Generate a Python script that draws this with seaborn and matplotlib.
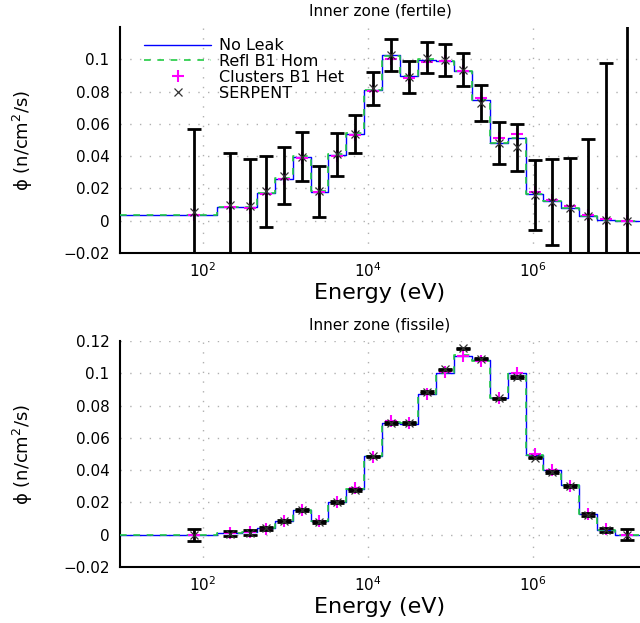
import matplotlib

matplotlib.use("Agg")

import matplotlib.pyplot as plt
import matplotlib.ticker as mticker
import numpy as np
import seaborn as sns

# group boundaries (eV), lowest lumped bin first
edges = [10, 148.63, 304.32, 454.0, 748.52, 1234.1, 2034.7, 3354.6, 5530.8,
         9118.8, 15034, 24788, 40868, 67379, 111090, 183160, 301970, 497870,
         820850, 1353400, 2231300, 3678800, 6065300, 1.0e7, 1.964e7]
# energies where the point data sit (group mid-points)
e_points = [78.9, 212.7, 371.7, 583, 961, 1585, 2613, 4307, 7102, 11709,
            19305, 31828, 52475, 86517, 142640, 235180, 387740, 639270,
            1054000, 1737700, 2865000, 4723700, 7788000, 1.4e7]

# Inner zone (fertile)
fert_noleak = [0.0037, 0.0088, 0.0083, 0.0170, 0.0260, 0.0397, 0.0180, 0.0410,
               0.0540, 0.0810, 0.1025, 0.0897, 0.0998, 0.0990, 0.0930, 0.0747,
               0.0480, 0.0510, 0.0167, 0.0120, 0.0078, 0.0027, 0.0006, 0.0]
fert_refl = [0.0037, 0.0088, 0.0083, 0.0171, 0.0262, 0.0399, 0.0181, 0.0412,
             0.0542, 0.0812, 0.1023, 0.0895, 0.0999, 0.0992, 0.0928, 0.0745,
             0.0481, 0.0512, 0.0168, 0.0121, 0.0079, 0.0028, 0.0006, 0.0]
fert_het = [0.0037, 0.0086, 0.0078, 0.0168, 0.0260, 0.0390, 0.0180, 0.0400,
            0.0530, 0.0805, 0.1004, 0.0885, 0.0980, 0.0990, 0.0930, 0.0757,
            0.0510, 0.0540, 0.0175, 0.0130, 0.0094, 0.0037, 0.0010, 0.0]
fert_serp = [0.0051, 0.0099, 0.0093, 0.0181, 0.0278, 0.0397, 0.0181, 0.0413,
             0.0537, 0.0819, 0.1025, 0.0890, 0.1010, 0.0994, 0.0936, 0.0730,
             0.0480, 0.0455, 0.0160, 0.0115, 0.0078, 0.0027, 0.0006, 0.0]
fert_err = [0.052, 0.032, 0.029, 0.022, 0.0177, 0.015, 0.016, 0.0133, 0.012,
            0.0105, 0.010, 0.010, 0.0095, 0.010, 0.010, 0.011, 0.013, 0.0147,
            0.0217, 0.0265, 0.031, 0.048, 0.097, 0.15]

# Inner zone (fissile)
fiss_noleak = [0.0, 0.0009, 0.0015, 0.0041, 0.0083, 0.0155, 0.0083, 0.0202,
               0.0283, 0.0485, 0.0695, 0.0689, 0.0870, 0.1000, 0.1110, 0.1080,
               0.0845, 0.1000, 0.0495, 0.0402, 0.0307, 0.0128, 0.0029, 0.0]
fiss_refl = [0.0, 0.0009, 0.0015, 0.0042, 0.0084, 0.0156, 0.0084, 0.0203,
             0.0284, 0.0487, 0.0697, 0.0690, 0.0872, 0.1001, 0.1111, 0.1079,
             0.0846, 0.0999, 0.0494, 0.0401, 0.0306, 0.0127, 0.0029, 0.0]
fiss_het = [0.0, 0.0008, 0.0015, 0.0037, 0.0084, 0.0153, 0.0083, 0.0205,
            0.0290, 0.0480, 0.0705, 0.0690, 0.0870, 0.1010, 0.1110, 0.1078,
            0.0845, 0.1000, 0.0497, 0.0402, 0.0303, 0.0128, 0.0035, 0.0]
fiss_serp = [0.0, 0.0007, 0.0012, 0.0040, 0.0085, 0.0153, 0.0080, 0.0201,
             0.0278, 0.0485, 0.0692, 0.0692, 0.0884, 0.1025, 0.1155, 0.1090,
             0.0845, 0.0977, 0.0478, 0.0390, 0.0299, 0.0124, 0.0029, 0.0]
fiss_err = [0.0036, 0.0018, 0.0015, 0.0010, 0.0008, 0.0007, 0.0007, 0.0006,
            0.0005, 0.0005, 0.0004, 0.0004, 0.0004, 0.0004, 0.0004, 0.0004,
            0.0004, 0.0004, 0.0005, 0.0005, 0.0006, 0.0008, 0.0012, 0.0033]

panels = [
    ("Inner zone (fertile)", fert_noleak, fert_refl, fert_het, fert_serp, fert_err,
     [-0.02, 0.0, 0.02, 0.04, 0.06, 0.08, 0.1]),
    ("Inner zone (fissile)", fiss_noleak, fiss_refl, fiss_het, fiss_serp, fiss_err,
     [-0.02, 0.0, 0.02, 0.04, 0.06, 0.08, 0.1, 0.12]),
]

sns.set_style("white")
plt.rcParams["font.family"] = ["DejaVu Sans"]
plt.rcParams["text.color"] = "black"
plt.rcParams["axes.labelcolor"] = "black"
plt.rcParams["xtick.color"] = "black"
plt.rcParams["ytick.color"] = "black"

fig = plt.figure(figsize=(6.4, 6.23), dpi=100)
boxes = [[0.1875, 0.5939, 0.8125, 0.3628], [0.1875, 0.0899, 0.8125, 0.3627]]

fmt = mticker.FuncFormatter(lambda v, p: f"{v:g}".replace("-", "\u2212"))

for i, (title, noleak, refl, het, serp, err, yticks) in enumerate(panels):
    ax = fig.add_axes(boxes[i])
    ax.set_xscale("log")

    sns.lineplot(x=edges, y=noleak + [noleak[-1]], drawstyle="steps-post",
                 color="#0000ff", linewidth=1.0, ax=ax, label="No Leak",
                 sort=False, zorder=3)
    sns.lineplot(x=edges, y=refl + [refl[-1]], drawstyle="steps-post",
                 color="#22cc44", linewidth=1.2, dashes=False, ax=ax,
                 label="Refl B1 Hom", sort=False, zorder=3.1)
    ax.lines[-1].set_dashes((4, 4))
    ax.plot(e_points, het, linestyle="none", marker="+", markersize=9,
            markeredgewidth=1.5, color="#ff00ff", label="Clusters B1 Het", zorder=4)
    ax.errorbar(e_points, serp, yerr=err, fmt="none", ecolor="black",
                elinewidth=2.0, capsize=5, capthick=2.0, zorder=5)
    ax.plot(e_points, serp, linestyle="none", marker="x", markersize=6,
            markeredgewidth=0.9, color="#333333", label="SERPENT", zorder=6)

    ax.set_xlim(10, 2e7)
    ax.set_ylim(-0.02, 0.12)
    ax.set_xticks([1e2, 1e4, 1e6])
    ax.xaxis.set_minor_locator(mticker.NullLocator())
    ax.set_yticks(yticks)
    ax.yaxis.set_major_formatter(fmt)

    ax.grid(True, color="#b0b0b0", linestyle=(0, (1, 6)), linewidth=1.0)
    for side in ["top", "right"]:
        ax.spines[side].set_visible(False)
    for side in ["left", "bottom"]:
        ax.spines[side].set_linewidth(1.5)
        ax.spines[side].set_color("black")
    ax.tick_params(axis="y", direction="inout", length=9, width=1.5,
                   labelsize=11, pad=3)
    ax.tick_params(axis="x", direction="in", length=4, width=1.5,
                   labelsize=11, pad=6)

    ax.set_title(title, fontsize=11, pad=8, color="black")
    ax.set_xlabel("Energy (eV)", fontsize=16, labelpad=2)
    ax.set_ylabel("\u03d5 (n/cm$^2$/s)", fontsize=13, labelpad=20)

    if i == 0:
        leg = ax.legend(loc="upper left", bbox_to_anchor=(0.025, 1.0),
                        frameon=False, fontsize=11.5, handlelength=4.2,
                        handletextpad=0.5, labelspacing=0.05, numpoints=1,
                        borderaxespad=0.3)
        for t in leg.get_texts():
            t.set_color("black")
        leg.set_zorder(2)
    else:
        ax.get_legend().remove()

fig.savefig("out.png", dpi=100)
